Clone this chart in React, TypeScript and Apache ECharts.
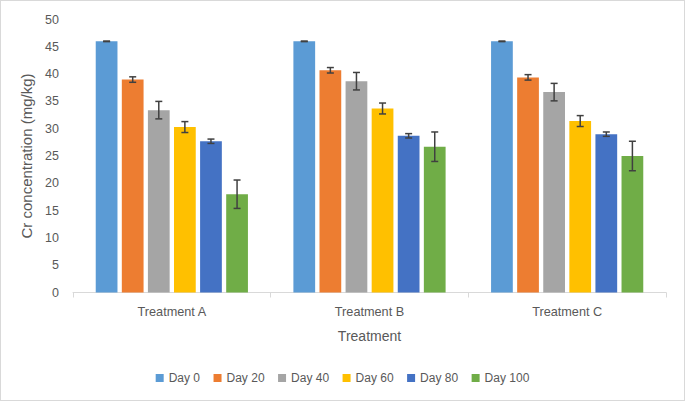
import React, { useEffect, useRef } from "react";
import * as echarts from "echarts";

const categories = ["Treatment A", "Treatment B", "Treatment C"];
const seriesNames = ["Day 0", "Day 20", "Day 40", "Day 60", "Day 80", "Day 100"];
const day0 = [46.0, 46.0, 46.0];
const day20 = [39.0, 40.7, 39.4];
const day40 = [33.4, 38.7, 36.7];
const day60 = [30.3, 33.7, 31.4];
const day80 = [27.7, 28.7, 29.0];
const day100 = [18.0, 26.7, 25.0];
const err0 = [0.05, 0.05, 0.05];
const err20 = [0.5, 0.5, 0.5];
const err40 = [1.6, 1.6, 1.6];
const err60 = [1.0, 1.0, 1.0];
const err80 = [0.4, 0.4, 0.4];
const err100 = [2.6, 2.7, 2.7];
const colors = ["#5B9BD5", "#ED7D31", "#A5A5A5", "#FFC000", "#4472C4", "#70AD47"];

const values = [day0, day20, day40, day60, day80, day100];
const errors = [err0, err20, err40, err60, err80, err100];

const CAT_GAP = 0.23;
const BAR_GAP = 0.2;
const FONT = "'Liberation Sans', Arial, sans-serif";
const TXT = "#595959";

export default function App() {
  const ref = useRef<HTMLDivElement>(null);
  useEffect(() => {
    document.body.style.margin = "0";
    if (!ref.current) return;
    const chart = echarts.init(ref.current, null, { renderer: "svg" });
    const n = seriesNames.length;
    const barSeries = seriesNames.map((name, i) => ({
      name,
      type: "bar",
      data: values[i],
      itemStyle: { color: colors[i] },
      barGap: `${BAR_GAP * 100}%`,
      barCategoryGap: `${CAT_GAP * 100}%`,
    }));
    const errSeries = seriesNames.map((name, i) => ({
      name: name + " err",
      type: "custom",
      silent: true,
      z: 10,
      data: categories.map((_, k) => [k, values[i][k] - errors[i][k], values[i][k] + errors[i][k]]),
      renderItem: (params: any, api: any) => {
        const k = api.value(0);
        const lo = api.coord([k, api.value(1)]);
        const hi = api.coord([k, api.value(2)]);
        const band = api.size([1, 0])[0];
        const avail = band * (1 - CAT_GAP);
        const w = avail / (n + (n - 1) * BAR_GAP);
        const x = lo[0] - avail / 2 + i * w * (1 + BAR_GAP) + w / 2;
        const cap = 3.5;
        const style = { stroke: "#404040", lineWidth: 1.5 };
        return {
          type: "group",
          children: [
            { type: "line", shape: { x1: x, y1: lo[1], x2: x, y2: hi[1] }, style },
            { type: "line", shape: { x1: x - cap, y1: lo[1], x2: x + cap, y2: lo[1] }, style },
            { type: "line", shape: { x1: x - cap, y1: hi[1], x2: x + cap, y2: hi[1] }, style },
          ],
        };
      },
    }));
    chart.setOption({
      animation: false,
      textStyle: { fontFamily: FONT },
      grid: { left: 72, right: 18, top: 18.5, bottom: 107.5 },
      legend: {
        data: seriesNames,
        bottom: 11,
        left: "center",
        itemWidth: 8,
        itemHeight: 8,
        itemGap: 13.5,
        icon: "rect",
        textStyle: { color: TXT, fontSize: 12, fontFamily: FONT },
      },
      xAxis: {
        type: "category",
        data: categories,
        name: "Treatment",
        nameLocation: "middle",
        nameGap: 36,
        nameTextStyle: { color: TXT, fontSize: 14, fontFamily: FONT },
        axisLine: { lineStyle: { color: "#D9D9D9", width: 1 } },
        axisTick: { show: true, length: 5, lineStyle: { color: "#D9D9D9" } },
        axisLabel: { color: TXT, fontSize: 12.7, margin: 13, fontFamily: FONT },
      },
      yAxis: {
        type: "value",
        min: 0,
        max: 50,
        interval: 5,
        name: "Cr concentration (mg/kg)",
        nameLocation: "middle",
        nameGap: 33,
        nameTextStyle: { color: TXT, fontSize: 15, fontFamily: FONT },
        axisLine: { show: false },
        axisTick: { show: false },
        splitLine: { show: false },
        axisLabel: { color: TXT, fontSize: 12.5, margin: 14, fontFamily: FONT },
      },
      series: [...barSeries, ...errSeries],
    });
    return () => chart.dispose();
  }, []);
  return (
    <div
      ref={ref}
      style={{ width: 685, height: 401, boxSizing: "border-box", border: "1px solid #D9D9D9", background: "#fff" }}
    />
  );
}
